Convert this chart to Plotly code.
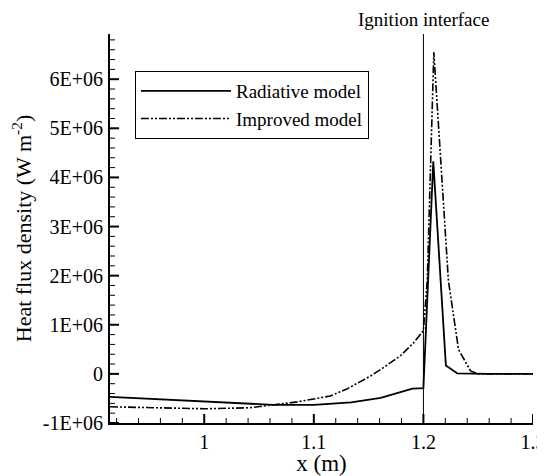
import plotly.graph_objects as go

# Radiative model (solid)
rad_x = [0.914, 0.95, 1.0, 1.063, 1.1, 1.134, 1.161, 1.18, 1.19, 1.2, 1.209, 1.2205, 1.231, 1.26, 1.3]
rad_y = [-0.47e6, -0.51e6, -0.56e6, -0.63e6, -0.63e6, -0.58e6, -0.49e6, -0.36e6, -0.30e6, -0.29e6,
         4.33e6, 0.17e6, 0.01e6, 0.0, 0.0]

# Improved model (dash-dot-dot)
imp_x = [0.914, 0.95, 1.0, 1.042, 1.063, 1.085, 1.1, 1.115, 1.13, 1.152, 1.165, 1.179, 1.191, 1.2,
         1.2035, 1.2095, 1.2228, 1.232, 1.243, 1.25, 1.3]
imp_y = [-0.67e6, -0.69e6, -0.71e6, -0.69e6, -0.63e6, -0.57e6, -0.51e6, -0.45e6, -0.31e6, -0.04e6,
         0.15e6, 0.37e6, 0.63e6, 0.88e6, 1.9e6, 6.55e6, 1.9e6, 0.5e6, 0.06e6, 0.0, 0.0]

y_ticks = [-1e6, 0, 1e6, 2e6, 3e6, 4e6, 5e6, 6e6]
y_labels = ["-1E+06", "0", "1E+06", "2E+06", "3E+06", "4E+06", "5E+06", "6E+06"]
y_minor_step = 0.2e6
x_ticks = [1.0, 1.1, 1.2, 1.3]
x_labels = ["1", "1.1", "1.2", "1.3"]
x_minor_step = 0.02
interface_x = 1.2

X_RANGE = [0.914, 1.3]
Y_RANGE = [-1.0e6, 6.92e6]
FONT = "Liberation Serif"
TICK_COLOR = "black"

W, H = 537, 468
ML, MR, MT, MB = 102, 12, 26, 53
PLOT_W = W - ML - MR
PLOT_H = H - MT - MB

fig = go.Figure()
fig.add_trace(go.Scatter(x=rad_x, y=rad_y, mode="lines", name="Radiative model",
                         line=dict(color="black", width=1.8)))
fig.add_trace(go.Scatter(x=imp_x, y=imp_y, mode="lines", name="Improved model",
                         line=dict(color="black", width=1.6, dash="8px,2px,2px,2px,2px,2px")))

fig.add_shape(type="line", xref="x", yref="paper", x0=interface_x, x1=interface_x, y0=0, y1=1,
              line=dict(color="black", width=1))
fig.add_annotation(x=interface_x, xref="x", y=1 + MT / PLOT_H, yref="paper", yanchor="top",
                   text="Ignition interface", showarrow=False, borderpad=0,
                   font=dict(family=FONT, size=19, color="black"))

# inward tick marks (major + minor), placed through the axes' own scales
def minor_positions(lo, hi, step, majors):
    out = []
    k = int(round(lo / step)) - 1
    while k * step <= hi + 1e-12:
        v = round(k * step, 10)
        if lo <= v <= hi and all(abs(v - m) > step * 1e-3 for m in majors):
            out.append(v)
        k += 1
    return out

MAJ, MIN = 9, 5
for v in x_ticks:
    fig.add_shape(type="line", xref="x", x0=v, x1=v, yref="paper", y0=0, y1=MAJ / PLOT_H,
                  line=dict(color=TICK_COLOR, width=2))
for v in minor_positions(X_RANGE[0], X_RANGE[1], x_minor_step, x_ticks):
    fig.add_shape(type="line", xref="x", x0=v, x1=v, yref="paper", y0=0, y1=MIN / PLOT_H,
                  line=dict(color=TICK_COLOR, width=1))
for v in y_ticks:
    fig.add_shape(type="line", yref="y", y0=v, y1=v, xref="paper", x0=0, x1=MAJ / PLOT_W,
                  line=dict(color=TICK_COLOR, width=2))
for v in minor_positions(Y_RANGE[0], Y_RANGE[1], y_minor_step, y_ticks):
    fig.add_shape(type="line", yref="y", y0=v, y1=v, xref="paper", x0=0, x1=MIN / PLOT_W,
                  line=dict(color=TICK_COLOR, width=1))

fig.update_layout(
    width=W, height=H,
    margin=dict(l=ML, r=MR, t=MT, b=MB, autoexpand=False),
    plot_bgcolor="white", paper_bgcolor="white",
    font=dict(family=FONT, size=20, color="black"),
    showlegend=True,
    legend=dict(x=0.059, y=0.905, xanchor="left", yanchor="top",
                bordercolor="black", borderwidth=1, bgcolor="white",
                font=dict(family=FONT, size=19), itemwidth=90, tracegroupgap=0),
    xaxis=dict(range=X_RANGE, tickmode="array", tickvals=x_ticks, ticktext=x_labels,
               showgrid=False, zeroline=False, showline=True, linecolor="black", linewidth=2,
               ticks="", automargin=False, ticklabelstandoff=0, ticklabeloverflow="allow",
               title=dict(text="x (m)", font=dict(family=FONT, size=23), standoff=2)),
    yaxis=dict(range=Y_RANGE, tickmode="array", tickvals=y_ticks, ticktext=y_labels,
               showgrid=False, zeroline=False, showline=True, linecolor="black", linewidth=2,
               ticks="", automargin=False, ticklabelstandoff=1, ticklabeloverflow="allow",
               title=dict(text="Heat flux density (W m<sup>-2</sup>)", font=dict(family=FONT, size=22),
                          standoff=12)),
)

fig.write_html("out.html")
